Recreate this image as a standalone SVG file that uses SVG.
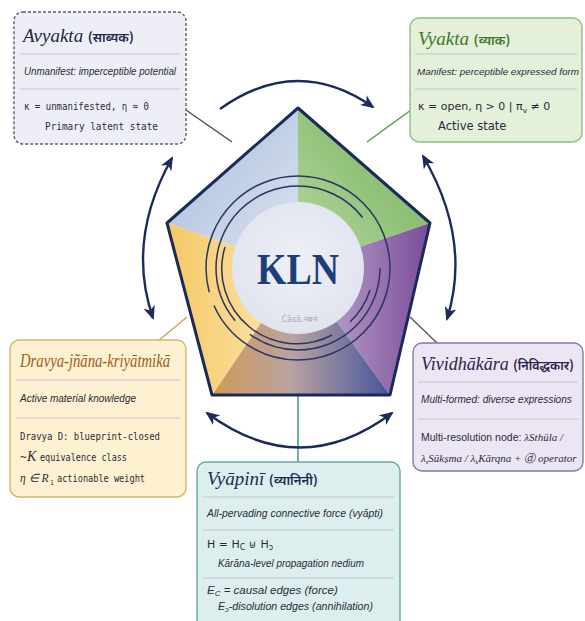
<svg xmlns="http://www.w3.org/2000/svg" width="585" height="621" viewBox="0 0 585 621">
  <defs>
    <style>
      .title { font-family: "Liberation Serif", "Times New Roman", serif; font-style: italic; font-size: 19px; }
      .deva { font-family: "Noto Sans Devanagari", "Noto Serif Devanagari", "Noto Sans", "FreeSerif", sans-serif; font-style: normal; font-weight: 600; font-size: 13px; }
      .it { font-family: "Liberation Sans Narrow", "Liberation Sans", sans-serif; font-style: italic; font-size: 11.5px; fill: #2b2b38; }
      .mono { font-family: "DejaVu Sans Mono", "Liberation Mono", monospace; font-size: 11px; fill: #2b2b38; }
      .sans { font-family: "DejaVu Sans", "Liberation Sans", sans-serif; font-size: 11.5px; fill: #2b2b38; }
      .ser { font-family: "Liberation Serif", serif; font-style: italic; fill: #2b2b38; }
      .rule { stroke: #c4c4cc; stroke-width: 1; }
      .arc { fill: none; stroke: #1c2b5c; stroke-width: 2.4; }
      .ring { fill: none; stroke: #2a3462; stroke-width: 1.5; }
      .box { stroke-width: 1.4; }
    </style>
    <marker id="head" viewBox="0 0 14 12" refX="12" refY="6" markerWidth="14" markerHeight="12" markerUnits="userSpaceOnUse" orient="auto-start-reverse">
      <path d="M0,0 L14,6 L0,12 L4,6 Z" fill="#1c2b5c"/>
    </marker>
    <linearGradient id="gBlue" x1="0" y1="0" x2="1" y2="1">
      <stop offset="0" stop-color="#a6bbdc"/>
      <stop offset="1" stop-color="#dde4ef"/>
    </linearGradient>
    <linearGradient id="gGreen" x1="1" y1="0" x2="0" y2="1">
      <stop offset="0" stop-color="#6fae55"/>
      <stop offset="1" stop-color="#b9d9a2"/>
    </linearGradient>
    <linearGradient id="gPurple" x1="1" y1="0" x2="0" y2="0">
      <stop offset="0" stop-color="#7a4c98"/>
      <stop offset="1" stop-color="#c9b4d6"/>
    </linearGradient>
    <linearGradient id="gBottom" x1="0" y1="0" x2="1" y2="0">
      <stop offset="0" stop-color="#d19a57"/>
      <stop offset="0.45" stop-color="#b9a2a0"/>
      <stop offset="1" stop-color="#44559c"/>
    </linearGradient>
    <linearGradient id="gYellow" x1="0" y1="0" x2="1" y2="0">
      <stop offset="0" stop-color="#f5c964"/>
      <stop offset="1" stop-color="#fbe7b4"/>
    </linearGradient>
    <radialGradient id="gCore" cx="0.5" cy="0.45" r="0.6">
      <stop offset="0" stop-color="#eef0f6"/>
      <stop offset="1" stop-color="#dfe3ee"/>
    </radialGradient>
  </defs>

  <rect width="585" height="621" fill="#ffffff"/>

  <!-- connectors: leader lines and cycle arrows -->
  <g id="connectors">
    <line x1="186" y1="110" x2="232" y2="142" stroke="#4a4a55" stroke-width="1.4"/>
    <line x1="367" y1="142" x2="411" y2="110" stroke="#5a9a48" stroke-width="1.4"/>
    <line x1="187" y1="317" x2="158" y2="341" stroke="#c9a15c" stroke-width="1.4"/>
    <line x1="410" y1="317" x2="438" y2="344" stroke="#55556a" stroke-width="1.4"/>
    <line x1="298" y1="395" x2="298" y2="462" stroke="#3a8c7c" stroke-width="1.4"/>

    <path class="arc" d="M220,109 Q297,54 373,107" marker-end="url(#head)"/>
    <path class="arc" d="M172,158 Q126,240 153,318" marker-start="url(#head)" marker-end="url(#head)"/>
    <path class="arc" d="M423,156 Q472,240 447,319" marker-start="url(#head)" marker-end="url(#head)"/>
    <path class="arc" d="M207,413 Q300,482 392,413" marker-start="url(#head)" marker-end="url(#head)"/>
  </g>

  <!-- central pentagon -->
  <g id="kln">
    <polygon points="298,268 167,223 298,108" fill="url(#gBlue)"/>
    <polygon points="298,268 298,108 430,223" fill="url(#gGreen)"/>
    <polygon points="298,268 430,223 390,395" fill="url(#gPurple)"/>
    <polygon points="298,268 390,395 212,395" fill="url(#gBottom)"/>
    <polygon points="298,268 212,395 167,223" fill="url(#gYellow)"/>
    <polygon points="298,108 430,223 390,395 212,395 167,223" fill="none" stroke="#1b2a5a" stroke-width="3" stroke-linejoin="round"/>

    <circle cx="298" cy="268" r="66" fill="url(#gCore)"/>
    <circle class="ring" cx="298" cy="268" r="92" stroke-dasharray="250 14 320 14"/>
    <circle class="ring" cx="298" cy="268" r="82" stroke-dasharray="180 20 260 60"/>
    <path class="ring" d="M225,247 A75,75 0 0 0 332,335"/>
    <path class="ring" d="M370,290 A75,75 0 0 1 350,322"/>

    <text x="298" y="284" text-anchor="middle" font-family="Liberation Serif, serif" font-weight="bold" font-size="44" fill="#1d3f78" textLength="82" lengthAdjust="spacingAndGlyphs">KLN</text>
    <text x="299" y="322" text-anchor="middle" font-family="DejaVu Sans, sans-serif" font-size="8" fill="#a7abb9">Cāsā.नबनं</text>
  </g>

  <!-- Avyakta -->
  <g id="avyakta">
    <rect class="box" x="14" y="12" width="172" height="132" rx="9" fill="#eeeff6" stroke="#5a5e78" stroke-dasharray="3 2"/>
    <text x="23" y="42" class="title" fill="#23274a">Avyakta <tspan class="deva">(साब्यक)</tspan></text>
    <line class="rule" x1="20" y1="54" x2="180" y2="54"/>
    <text x="24" y="75" class="it" textLength="152" lengthAdjust="spacingAndGlyphs">Unmanifest: imperceptible potential</text>
    <line class="rule" x1="20" y1="89" x2="180" y2="89"/>
    <text x="24" y="110" class="mono" textLength="125" lengthAdjust="spacingAndGlyphs">κ = unmanifested, η ≈ 0</text>
    <text x="45" y="130" class="mono" textLength="113" lengthAdjust="spacingAndGlyphs">Primary latent state</text>
  </g>

  <!-- Vyakta -->
  <g id="vyakta">
    <rect class="box" x="410" y="18" width="172" height="124" rx="9" fill="#e4f0da" stroke="#90c07c"/>
    <text x="418" y="45" class="title" fill="#3a7a2a">Vyakta <tspan class="deva">(व्याक)</tspan></text>
    <line class="rule" x1="415" y1="54" x2="577" y2="54"/>
    <text x="417" y="75" class="it" style="font-size:9.9px">Manifest: perceptible expressed form</text>
    <line class="rule" x1="415" y1="89" x2="577" y2="89"/>
    <text x="418" y="110" class="sans" style="font-size:11px">κ = open, η &gt; 0 | π<tspan font-size="7.5" dy="3">v</tspan><tspan dy="-3"> ≠ 0</tspan></text>
    <text x="438" y="130" class="sans">Active state</text>
  </g>

  <!-- Dravya-jñāna-kriyātmikā -->
  <g id="dravya">
    <rect class="box" x="10" y="340" width="176" height="157" rx="9" fill="#fdf1d2" stroke="#d6b36a"/>
    <text x="20" y="367" class="title" fill="#9a6020" textLength="150" lengthAdjust="spacingAndGlyphs">Dravya-jñāna-kriyātmikā</text>
    <line class="rule" x1="16" y1="380" x2="180" y2="380"/>
    <text x="20" y="402" class="it" textLength="116" lengthAdjust="spacingAndGlyphs">Active material knowledge</text>
    <line class="rule" x1="16" y1="418" x2="180" y2="418"/>
    <text x="20" y="440" class="mono" textLength="140" lengthAdjust="spacingAndGlyphs">Dravya D: blueprint-closed</text>
    <text x="20" y="461" class="mono">~</text>
    <text x="27" y="461" class="ser" font-size="14">K</text>
    <text x="40" y="461" class="mono" textLength="87" lengthAdjust="spacingAndGlyphs">equivalence class</text>
    <text x="20" y="482" class="ser" font-size="11.5">η ∈ R</text>
    <text x="50" y="485" class="mono" style="font-size:6.5px">1</text>
    <text x="57" y="482" class="mono" textLength="88" lengthAdjust="spacingAndGlyphs">actionable weight</text>
  </g>

  <!-- Vividhākāra -->
  <g id="vividhakara">
    <rect class="box" x="413" y="343" width="170" height="128" rx="9" fill="#ece6f4" stroke="#857aa4"/>
    <text x="421" y="370" class="title" style="font-size:18px" fill="#2a2448">Vividhākāra <tspan class="deva" style="font-size:12.5px">(निविद्धकार)</tspan></text>
    <line class="rule" x1="418" y1="382" x2="578" y2="382"/>
    <text x="421" y="403" class="it" style="font-size:10.1px">Multi-formed: diverse expressions</text>
    <line class="rule" x1="418" y1="419" x2="578" y2="419"/>
    <text x="421" y="441" font-family="Liberation Sans, sans-serif" font-size="10.5" fill="#2b2b38">Multi-resolution node: <tspan class="ser" font-size="11">λSthūla /</tspan></text>
    <text x="421" y="462" class="ser" font-size="11">λ<tspan font-size="6.5" dy="2">s</tspan><tspan dy="-2">Sūkṣma / λ</tspan><tspan font-size="6.5" dy="2">k</tspan><tspan dy="-2">Kārqna + ⓓ operator</tspan></text>
  </g>

  <!-- Vyāpinī -->
  <g id="vyapini">
    <rect class="box" x="197" y="462" width="203" height="170" rx="9" fill="#dcefee" stroke="#6aa6a4"/>
    <text x="207" y="485" class="title" fill="#1f2b55">Vyāpinī <tspan class="deva">(व्यानिनी)</tspan></text>
    <line class="rule" x1="203" y1="497" x2="394" y2="497"/>
    <text x="207" y="517" class="it" textLength="176" lengthAdjust="spacingAndGlyphs">All-pervading connective force (vyāpti)</text>
    <line class="rule" x1="203" y1="530" x2="394" y2="530"/>
    <text x="207" y="548" class="sans" style="font-size:11px">H = H<tspan font-size="8" dy="2">C</tspan><tspan dy="-2"> ⊍ H</tspan><tspan font-size="8" dy="2">ɔ</tspan></text>
    <text x="218" y="567" class="it" textLength="146" lengthAdjust="spacingAndGlyphs">Kārāna-level propagation nedium</text>
    <line class="rule" x1="203" y1="578" x2="394" y2="578"/>
    <text x="207" y="594" class="it">E<tspan font-size="8" dy="2">C</tspan><tspan dy="-2"> = causal edges (force)</tspan></text>
    <text x="218" y="610" class="it" textLength="155" lengthAdjust="spacingAndGlyphs">E<tspan font-size="8" dy="2">ɔ</tspan><tspan dy="-2">-disolution edges (annihilation)</tspan></text>
  </g>
</svg>
